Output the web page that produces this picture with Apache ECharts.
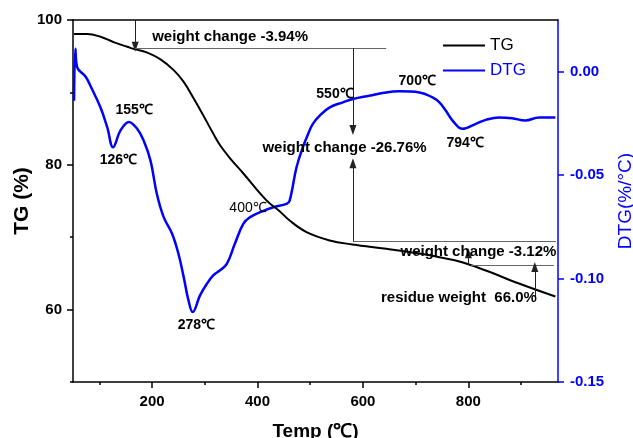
<!DOCTYPE html>
<html>
<head>
<meta charset="utf-8">
<script src="https://cdn.jsdelivr.net/npm/echarts@6/dist/echarts.min.js"></script>
<style>
  html, body { margin: 0; padding: 0; background: #fff; }
  .demo { width: 633px; height: 438px; }
</style>
</head>
<body>
<div class="demo"></div>
<script>
// TG curve (temperature in C, weight %)
const tgTemp = [52, 77, 102, 127, 153, 168, 191, 216, 241, 260, 279, 297, 316, 329, 348, 372, 417, 442, 461, 493, 537, 580, 644, 707, 745, 788, 833, 896, 965]
const tgValue = [98.06, 98.06, 97.69, 96.95, 96.3, 95.94, 95.5, 94.56, 93.08, 91.46, 89.16, 86.85, 84.31, 82.7, 80.9, 78.9, 75.09, 73.6, 72.3, 70.7, 69.55, 69.0, 68.4, 67.75, 67.24, 66.55, 65.4, 63.6, 61.8]

// DTG curve (temperature in C, %/C)
const dtgTemp = [52, 54.5, 58, 74, 83, 102, 115, 126, 140, 156, 172, 184, 197, 209, 222, 238, 250, 260, 269, 277, 291, 304, 316, 329, 342, 357, 373, 386, 405, 430, 455, 461, 474, 486, 496, 505, 518, 537, 562, 581, 612, 644, 669, 707, 732, 745, 757, 770, 789, 814, 833, 858, 883, 908, 934, 965]
const dtgValue = [-0.014, 0.0111, 0.0021, -0.0024, -0.0068, -0.0172, -0.0269, -0.0365, -0.0285, -0.0243, -0.0277, -0.0333, -0.043, -0.059, -0.0703, -0.0783, -0.088, -0.0993, -0.1105, -0.1162, -0.1081, -0.1025, -0.0985, -0.096, -0.0928, -0.0832, -0.0735, -0.0703, -0.0679, -0.0655, -0.0639, -0.0623, -0.0462, -0.0365, -0.0301, -0.0252, -0.0212, -0.0172, -0.0148, -0.0132, -0.0116, -0.01, -0.0095, -0.01, -0.0124, -0.0148, -0.0188, -0.0236, -0.0276, -0.0252, -0.0233, -0.0221, -0.0225, -0.0236, -0.0221, -0.0221]

// axis ticks
const xMajor = [200, 400, 600, 800]
const xMinor = [100, 300, 500, 700, 900]
const tgMajor = [60, 80, 100]
const tgMinor = [50, 70, 90]
const dtgMajor = [-0.15, -0.1, -0.05, 0]

// peak temperatures [temp, tg-axis value, text]
const peakLabels = [
  [166, 87.5, '155℃'],
  [136, 80.6, '126℃'],
  [284, 57.9, '278℃'],
  [547, 89.8, '550℃'],
  [703, 91.5, '700℃'],
  [794, 83.0, '794℃']
]
// weight change notes
const notes = [
  [348, 97.65, 'weight change -3.94%'],
  [565, 82.33, 'weight change -26.76%'],
  [819, 67.95, 'weight change -3.12%'],
  [782, 61.6, 'residue weight  66.0%']
]
// guide lines: [x1, y1, x2, y2, arrow at end]
const guides = [
  [168, 100, 168, 96.3, true],
  [168, 96.08, 644, 96.08, false],
  [581, 96.08, 581, 84.8, true],
  [581, 69.41, 581, 80.2, true],
  [581, 69.41, 966, 69.41, false],
  [800, 66.18, 800, 67.8, true],
  [805, 66.18, 962, 66.18, false],
  [926, 61.7, 926, 65.9, true]
]

const font = "'Liberation Sans', Arial, sans-serif"
const blue = '#0000ff'

let myChart = echarts.init(document.querySelector('.demo'))

let option = {
  animation: false,
  grid: { left: 73, right: 75, top: 20, bottom: 56, outerBoundsMode: 'none' },
  legend: {
    orient: 'vertical',
    left: 438,
    top: 32,
    itemWidth: 42,
    itemHeight: 2,
    itemGap: 8,
    icon: 'rect',
    textStyle: { fontFamily: font, fontSize: 17 },
    data: [
      { name: 'TG', textStyle: { color: '#000' } },
      { name: 'DTG', textStyle: { color: blue } }
    ]
  },
  xAxis: [
    {
      type: 'value', min: 50, max: 970, position: 'bottom',
      name: 'Temp (℃)', nameLocation: 'middle', nameGap: 40, nameMoveOverlap: false,
      nameTextStyle: { fontFamily: font, fontSize: 19, fontWeight: 'bold', color: '#000' },
      axisLine: { onZero: false, lineStyle: { color: '#000', width: 1.5 } },
      axisTick: { customValues: xMajor, length: 6, lineStyle: { color: '#000', width: 1.5 } },
      axisLabel: { customValues: xMajor, margin: 12, fontFamily: font, fontSize: 15, fontWeight: 'bold', color: '#000' },
      splitLine: { show: false }
    },
    {
      type: 'value', min: 50, max: 970, position: 'bottom',
      axisLine: { show: false, onZero: false },
      axisTick: { customValues: xMinor, length: 3, lineStyle: { color: '#000', width: 1.5 } },
      axisLabel: { show: false },
      splitLine: { show: false }
    },
    {
      type: 'value', min: 50, max: 970, position: 'top',
      axisLine: { onZero: false, lineStyle: { color: '#000', width: 1.5 } },
      axisTick: { show: false },
      axisLabel: { show: false },
      splitLine: { show: false }
    }
  ],
  yAxis: [
    {
      type: 'value', min: 50, max: 100, position: 'left',
      name: 'TG (%)', nameLocation: 'middle', nameRotate: 90, nameGap: 40, nameMoveOverlap: false,
      nameTextStyle: { fontFamily: font, fontSize: 21, fontWeight: 'bold', color: '#000' },
      axisLine: { show: true, onZero: false, lineStyle: { color: '#000', width: 1.5 } },
      axisTick: { show: true, customValues: tgMajor, length: 6, lineStyle: { color: '#000', width: 1.5 } },
      axisLabel: { customValues: tgMajor, margin: 11, fontFamily: font, fontSize: 15, fontWeight: 'bold', color: '#000' },
      splitLine: { show: false }
    },
    {
      type: 'value', min: 50, max: 100, position: 'left',
      axisLine: { show: false, onZero: false },
      axisTick: { show: true, customValues: tgMinor, length: 3, lineStyle: { color: '#000', width: 1.5 } },
      axisLabel: { show: false },
      splitLine: { show: false }
    },
    {
      type: 'value', min: -0.15, max: 0.025, position: 'right',
      name: 'DTG(%/°C)', nameLocation: 'middle', nameRotate: 90, nameGap: 58,
      nameTextStyle: { fontFamily: font, fontSize: 19, color: blue },
      axisLine: { show: true, onZero: false, lineStyle: { color: blue, width: 1.5 } },
      axisTick: { show: true, customValues: dtgMajor, length: 6, lineStyle: { color: blue, width: 1.5 } },
      axisLabel: {
        customValues: dtgMajor, margin: 12, fontFamily: font, fontSize: 15, fontWeight: 'bold', color: blue,
        formatter: v => v.toFixed(2)
      },
      splitLine: { show: false }
    }
  ],
  series: [
    {
      name: 'TG',
      type: 'line',
      xAxisIndex: 0,
      yAxisIndex: 0,
      data: tgTemp.map((t, i) => [t, tgValue[i]]),
      showSymbol: false,
      smooth: 0.4,
      color: '#000',
      lineStyle: { color: '#000', width: 2 },
      z: 3,
      markLine: {
        silent: true,
        label: { show: false },
        symbolSize: [7, 10],
        data: guides.map(g => [
          { coord: [g[0], g[1]], symbol: 'none' },
          { coord: [g[2], g[3]], symbol: g[4] ? 'triangle' : 'none',
            lineStyle: { color: g[4] ? '#222' : '#666', width: 1, type: 'solid' } }
        ])
      },
      markPoint: {
        silent: true,
        symbol: 'circle',
        symbolSize: 1,
        itemStyle: { color: 'transparent' },
        data: notes.map(n => ({
          coord: [n[0], n[1]], name: n[2],
          label: { show: true, position: 'inside', formatter: '{b}', fontFamily: font, fontSize: 15, fontWeight: 'bold', color: '#000' }
        })).concat(peakLabels.map(p => ({
          coord: [p[0], p[1]], name: p[2],
          label: { show: true, position: 'inside', formatter: '{b}', fontFamily: font, fontSize: 14, fontWeight: 'bold', color: '#000' }
        }))).concat([{
          coord: [382, 74.0], name: '400℃',
          label: { show: true, position: 'inside', formatter: '{b}', fontFamily: font, fontSize: 14, color: '#000' }
        }])
      }
    },
    {
      name: 'DTG',
      type: 'line',
      xAxisIndex: 0,
      yAxisIndex: 2,
      data: dtgTemp.map((t, i) => [t, dtgValue[i]]),
      showSymbol: false,
      smooth: 0.4,
      color: blue,
      lineStyle: { color: blue, width: 2.5 },
      z: 2
    }
  ]
}

myChart.setOption(option)
</script>
</body>
</html>
